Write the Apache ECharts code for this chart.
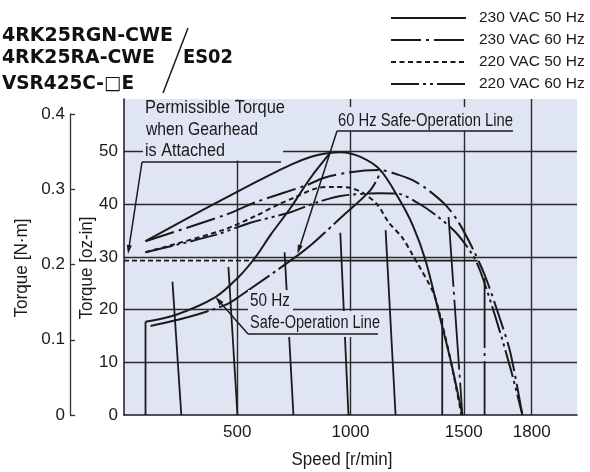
<!DOCTYPE html>
<html><head><meta charset="utf-8">
<script src="https://cdn.jsdelivr.net/npm/echarts@6/dist/echarts.min.js"></script>
<style>html,body{margin:0;padding:0;background:#fff}#c{width:590px;height:472px}</style>
</head><body><div id="c"></div>
<script>
// ---------- data (speed r/min, torque oz-in) ----------
const legendNames = ['230 VAC 50 Hz', '230 VAC 60 Hz', '220 VAC 50 Hz', '220 VAC 60 Hz'];
const xTickLabels = [500, 1000, 1500, 1800];
const yTicksOz = [0, 10, 20, 30, 40, 50];
const yTicksNm = [0, 0.1, 0.2, 0.3, 0.4];

const v230hz50 = [[95,33.0],[338,38.7],[581,44.2],[735,47.5],[823,49.0],[898,49.7],[956,49.9],[1044,49.0],[1132,46.5],[1212,41.2],[1274,36.1],[1331,29.4],[1397,18.2],[1442,10.4],[1494,0]];
const v230hz60 = [[95,33.0],[448,38.0],[581,40.4],[810,43.7],[881,45.0],[1000,46.1],[1132,46.5],[1212,45.6],[1274,44.6],[1331,43.1],[1419,39.9],[1477,36.6],[1543,31.3],[1596,26.2],[1662,18.0],[1706,11.8],[1759,0]];
const v220hz50 = [[95,30.9],[435,35.1],[581,37.8],[678,39.9],[748,41.2],[854,43.1],[925,43.3],[1000,43.1],[1058,42.1],[1119,39.9],[1168,36.6],[1230,33.6],[1274,30.4],[1300,28.5],[1366,23.2],[1397,18.6],[1442,10.4],[1490,0]];
const v220hz60 = [[95,30.9],[404,34.2],[558,36.5],[735,38.5],[854,40.4],[956,41.6],[1132,42.1],[1212,42.0],[1296,40.3],[1375,38.0],[1464,34.7],[1539,30.4],[1574,27.2],[1640,18.6],[1706,8.9],[1759,0]];

const safeLine50 = [[95,17.7],[227,19.0],[404,22.4],[506,26.2],[581,30.0],[647,34.2],[735,39.3],[823,45.0],[911,49.8]];
const safeLine60 = [[117,16.9],[285,18.6],[448,20.9],[506,22.4],[770,30.4],[837,32.7],[956,37.4],[1088,42.7],[1135,46.3]];

const loadLinesSolid = [
  [[95,17.7],[95,0]],
  [[214,25.3],[253,0]],
  [[461,28.1],[501,0]],
  [[709,30.9],[748,0]],
  [[955,34.6],[991,0]],
  [[1155,35.1],[1199,0]],
  [[1405,18.4],[1405,0]]
];
const loadLinesDashDot = [
  [[1433,37.6],[1494,0]],
  [[1592,26.0],[1592,0]]
];
const permissibleDashed = [[0,29.3],[570,29.3]];
const permissibleSolid = [[570,29.3],[1561,29.3]];

// ---------- styles ----------
const FONT = '"Liberation Sans", Arial, sans-serif';
const BOLD = '"DejaVu Sans", sans-serif';
const BG = '#dfe5f3';
const INK = '#1a1a1a';
const GRIDC = '#2a2a2a';
const NONE = 'rgba(0,0,0,0)';

const chart = echarts.init(document.getElementById('c'), null, {renderer: 'canvas'});

const series = [];
function addLine(name, data, type, width, smooth) {
  series.push({
    name: name, type: 'line', data: data, symbol: 'none', smooth: smooth || 0,
    silent: true, animation: false, xAxisIndex: 0, yAxisIndex: 0,
    itemStyle: {color: INK},
    lineStyle: {color: INK, width: width || 2, type: type || 'solid', cap: 'butt'}
  });
}
addLine(legendNames[0], v230hz50, 'solid', 2, 0.3);
addLine(legendNames[1], v230hz60, [30,5,3,5], 2, 0.3);
addLine(legendNames[2], v220hz50, [5,3.5], 2, 0.3);
addLine(legendNames[3], v220hz60, [28,4,3,4,3,4], 2, 0.3);
addLine('safe50', safeLine50, 'solid', 2, 0.3);
addLine('safe60', safeLine60, [60,4,3,4], 2, 0.3);
loadLinesSolid.forEach((d, i) => addLine('ls' + i, d, 'solid', 1.8));
loadLinesDashDot.forEach((d, i) => addLine('ld' + i, d, [70,5,3,5], 1.8));
addLine('permD', permissibleDashed, [5,3], 1.8);
addLine('permS', permissibleSolid, 'solid', 1.8);

const xSplitColors = [];
for (let v = 0; v <= 2000; v += 100) xSplitColors.push(xTickLabels.includes(v) ? GRIDC : NONE);
const ySplitColors = [];
for (let v = 0; v <= 60; v += 10) ySplitColors.push(yTicksOz.includes(v) && v > 0 ? GRIDC : NONE);

const labelStyle = {fontFamily: FONT, fontSize: 17, color: INK};

chart.setOption({
  animation: false,
  backgroundColor: '#fff',
  grid: [
    {left: 124, right: 13, top: 99, bottom: 57, show: true, backgroundColor: BG, borderWidth: 0, containLabel: false},
    {left: 70, top: 114, bottom: 57, width: 20, show: false, containLabel: false}
  ],
  xAxis: [
    {type: 'value', gridIndex: 0, min: 0, max: 2000, interval: 100,
     axisLine: {show: true, onZero: false, lineStyle: {color: INK, width: 1.5}},
     axisTick: {show: false},
     axisLabel: Object.assign({margin: 9, formatter: v => xTickLabels.includes(v) ? String(v) : ''}, labelStyle),
     splitLine: {show: true, lineStyle: {color: xSplitColors, width: 1.4}}},
    {type: 'value', gridIndex: 1, min: 0, max: 1, show: false}
  ],
  yAxis: [
    {type: 'value', gridIndex: 0, min: 0, max: 60, interval: 10,
     axisLine: {show: true, onZero: false, lineStyle: {color: INK, width: 1.5}},
     axisTick: {show: false},
     axisLabel: Object.assign({margin: 6, formatter: v => yTicksOz.includes(v) ? String(v) : ''}, labelStyle),
     splitLine: {show: true, lineStyle: {color: ySplitColors, width: 1.4}}},
    {type: 'value', gridIndex: 1, min: 0, max: 0.4, interval: 0.1, position: 'left',
     axisLine: {show: true, onZero: false, lineStyle: {color: '#333', width: 1.3}},
     axisTick: {show: true, inside: true, length: 5, lineStyle: {color: '#333', width: 1.3}},
     axisLabel: Object.assign({margin: 5, formatter: v => {
       const m = yTicksNm.find(t => Math.abs(t - v) < 1e-9);
       return m === undefined ? '' : (m === 0 ? '0' : m.toFixed(1));
     }}, labelStyle),
     splitLine: {show: false}}
  ],
  legend: {
    data: legendNames, orient: 'vertical', left: 385, top: 5,
    itemWidth: 75, itemHeight: 14, itemGap: 6, selectedMode: false,
    itemStyle: {color: NONE, borderColor: NONE, borderWidth: 0, opacity: 0},
    textStyle: {fontFamily: FONT, fontSize: 15.5, lineHeight: 16, color: INK, padding: [0, 0, 0, 8]}
  },
  series: series
});

// ---------- annotations ----------
const P = (x, y) => chart.convertToPixel({gridIndex: 0}, [x, y]);
const mctx = document.createElement('canvas').getContext('2d');
function fitScale(s, font, target) {
  mctx.font = font;
  const w = mctx.measureText(s).width;
  return w > 0 ? target / w : 1;
}
function arrow(from, tip) {
  const dx = tip[0] - from[0], dy = tip[1] - from[1];
  const L = Math.hypot(dx, dy), ux = dx / L, uy = dy / L;
  const len = 9, half = 2.6;
  const bx = tip[0] - ux * len, by = tip[1] - uy * len;
  return [
    {type: 'line', shape: {x1: from[0], y1: from[1], x2: bx + ux * 2, y2: by + uy * 2}, style: {stroke: INK, lineWidth: 1.5}, z: 102},
    {type: 'polygon', shape: {points: [tip, [bx - uy * half, by + ux * half], [bx + uy * half, by - ux * half]]}, style: {fill: INK}, z: 102}
  ];
}
function rect(x, y, w, h) {
  return {type: 'rect', shape: {x: x, y: y, width: w, height: h}, style: {fill: BG}, z: 100};
}
// text fitted to a target width (reference uses a condensed face)
function ftxt(s, x, y, target, opts) {
  const o = opts || {};
  const font = o.font || ('18px ' + FONT);
  const sc = target ? fitScale(s, font, target) : 1;
  const el = {type: 'text', x: x, y: y, z: 103, scaleX: sc,
    style: {text: s, font: font, fill: o.fill || INK, textAlign: o.align || 'left', textVerticalAlign: 'middle'}};
  if (o.rotation) { el.rotation = o.rotation; }
  return el;
}
function hline(x1, x2, y, w) {
  return {type: 'line', shape: {x1: x1, y1: y, x2: x2, y2: y}, style: {stroke: INK, lineWidth: w || 1.5}, z: 102};
}

const tipPerm = [128, 254];
const tip60 = P(766, 30.6);
const tip50 = P(404, 22.4);
const BFONT = 'bold 19px ' + BOLD;

const g = [];
// title block
g.push(ftxt('4RK25RGN-CWE', 2, 36.5, 171, {font: BFONT, fill: '#111'}));
g.push(ftxt('4RK25RA-CWE', 2, 58.5, 153, {font: BFONT, fill: '#111'}));
g.push(ftxt('VSR425C-\u25A1E', 2, 84, 132, {font: BFONT, fill: '#111'}));
g.push(ftxt('ES02', 183, 58.5, 50, {font: BFONT, fill: '#111'}));
g.push({type: 'line', shape: {x1: 188, y1: 28, x2: 163, y2: 93}, style: {stroke: INK, lineWidth: 1.5}, z: 102});

// axis titles
g.push(ftxt('Torque [N\u00B7m]', 22, 268, 99, {align: 'center', rotation: Math.PI / 2}));
g.push(ftxt('Torque [oz-in]', 87, 268, 103, {align: 'center', rotation: Math.PI / 2}));
g.push(ftxt('Speed [r/min]', 342, 460, 101, {align: 'center'}));

// permissible torque label
g.push(rect(143, 99.5, 140, 61));
g.push(ftxt('Permissible Torque', 145, 108, 140));
g.push(ftxt('when Gearhead', 146, 130, 112));
g.push(ftxt('is Attached', 145, 151, 80));
g.push(hline(142, 281, 162));
g.push(...arrow([142, 162], tipPerm));

// 60 Hz label
g.push(rect(336, 107, 179, 24));
g.push(ftxt('60 Hz Safe-Operation Line', 338, 121, 175));
g.push(hline(337, 513, 131));
g.push(...arrow([337, 131], tip60));

// 50 Hz label
g.push(rect(248, 290, 45, 21));
g.push(rect(248, 311, 136, 26));
g.push(ftxt('50 Hz', 250, 301, 40));
g.push(ftxt('Safe-Operation Line', 250, 323, 130));
g.push(hline(248, 378, 334));
g.push(...arrow([248, 334], tip50));

chart.setOption({graphic: {elements: g}});
</script>
</body></html>
